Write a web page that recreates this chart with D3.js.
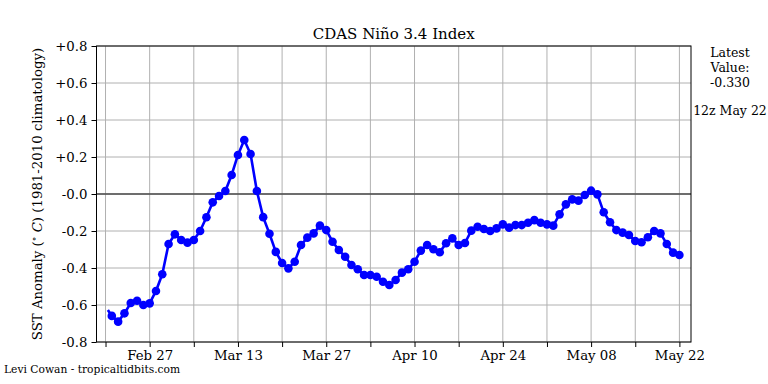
<!DOCTYPE html>
<html><head><meta charset="utf-8">
<script src="https://cdn.jsdelivr.net/npm/d3@7"></script>
<style>body{margin:0;background:#fff}svg{display:block}text{font-family:"DejaVu Serif",serif}</style>
</head><body><svg id="c" width="768" height="384"></svg>
<script>
const dates = ["2023-02-20T09:00","2023-02-21","2023-02-22","2023-02-23","2023-02-24","2023-02-25","2023-02-26","2023-02-27","2023-02-28",
"2023-03-01","2023-03-02","2023-03-03","2023-03-04","2023-03-05","2023-03-06","2023-03-07","2023-03-08","2023-03-09","2023-03-10",
"2023-03-11","2023-03-12","2023-03-13","2023-03-14","2023-03-15","2023-03-16","2023-03-17","2023-03-18","2023-03-19","2023-03-20",
"2023-03-21","2023-03-22","2023-03-23","2023-03-24","2023-03-25","2023-03-26","2023-03-27","2023-03-28","2023-03-29","2023-03-30",
"2023-03-31","2023-04-01","2023-04-02","2023-04-03","2023-04-04","2023-04-05","2023-04-06","2023-04-07","2023-04-08","2023-04-09",
"2023-04-10","2023-04-11","2023-04-12","2023-04-13","2023-04-14","2023-04-15","2023-04-16","2023-04-17","2023-04-18","2023-04-19",
"2023-04-20","2023-04-21","2023-04-22","2023-04-23","2023-04-24","2023-04-25","2023-04-26","2023-04-27","2023-04-28","2023-04-29",
"2023-04-30","2023-05-01","2023-05-02","2023-05-03","2023-05-04","2023-05-05","2023-05-06","2023-05-07","2023-05-08","2023-05-09",
"2023-05-10","2023-05-11","2023-05-12","2023-05-13","2023-05-14","2023-05-15","2023-05-16","2023-05-17","2023-05-18","2023-05-19",
"2023-05-20","2023-05-21","2023-05-22"];
const values = [-0.627,-0.659,-0.690,-0.645,-0.589,-0.577,-0.600,-0.591,-0.524,
-0.434,-0.270,-0.218,-0.249,-0.263,-0.249,-0.200,-0.126,-0.045,-0.011,
0.016,0.103,0.211,0.292,0.216,0.016,-0.125,-0.215,-0.313,-0.373,
-0.402,-0.366,-0.276,-0.236,-0.213,-0.171,-0.195,-0.258,-0.303,-0.339,
-0.384,-0.407,-0.438,-0.438,-0.447,-0.474,-0.492,-0.465,-0.425,-0.407,
-0.366,-0.306,-0.276,-0.299,-0.315,-0.266,-0.240,-0.276,-0.265,-0.198,
-0.177,-0.189,-0.200,-0.186,-0.164,-0.182,-0.168,-0.168,-0.155,-0.141,
-0.155,-0.164,-0.171,-0.110,-0.056,-0.029,-0.036,-0.005,0.018,-0.002,
-0.099,-0.153,-0.195,-0.209,-0.222,-0.254,-0.261,-0.234,-0.200,-0.213,
-0.270,-0.317,-0.330];
const xLimits = ["2023-02-18T13:40","2023-05-23T20:10"];
const majorTicks = ["2023-02-27","2023-03-13","2023-03-27","2023-04-10","2023-04-24","2023-05-08","2023-05-22"];
const minorTicks = ["2023-02-20","2023-03-06","2023-03-20","2023-04-03","2023-04-17","2023-05-01","2023-05-15"];
const yTicks = [0.8,0.6,0.4,0.2,0.0,-0.2,-0.4,-0.6,-0.8];
const yTickLabels = ["+0.8","+0.6","+0.4","+0.2","-0.0","-0.2","-0.4","-0.6","-0.8"];
const latestLines = ["Latest","Value:","-0.330"];
const latestTime = "12z May 22";

const parse = s => new Date(s.length > 10 ? s : s + "T00:00");
const L = 96.5, R = 691, T = 46, B = 342;
const svg = d3.select("#c");
const x = d3.scaleTime().domain(xLimits.map(parse)).range([L, R]);
const y = d3.scaleLinear().domain([-0.8, 0.8]).range([B, T]);
const allTicks = majorTicks.concat(minorTicks).map(parse);

// grid
const g = svg.append("g");
g.selectAll(".vg").data(allTicks).join("line")
  .attr("x1", d => x(d)).attr("x2", d => x(d)).attr("y1", T).attr("y2", B)
  .attr("stroke", "#b0b0b0").attr("stroke-width", 1);
g.selectAll(".hg").data(yTicks).join("line")
  .attr("x1", L).attr("x2", R).attr("y1", d => y(d)).attr("y2", d => y(d))
  .attr("stroke", "#b0b0b0").attr("stroke-width", 1);
// zero line
svg.append("line").attr("x1", L).attr("x2", R).attr("y1", y(0)).attr("y2", y(0))
  .attr("stroke", "#4a4a4a").attr("stroke-width", 1.5);

// axes
const xAxisMajor = d3.axisBottom(x).tickValues(majorTicks.map(parse)).tickFormat(d3.timeFormat("%b %d")).tickSize(5).tickPadding(4);
const xAxisMinor = d3.axisBottom(x).tickValues(minorTicks.map(parse)).tickFormat("").tickSize(5);
const yAxis = d3.axisLeft(y).tickValues(yTicks).tickFormat((d, i) => yTickLabels[i]).tickSize(5).tickPadding(4);
function style(sel) {
  sel.select(".domain").remove();
  sel.selectAll("line").attr("stroke", "#000").attr("stroke-width", 1);
  sel.selectAll("text").attr("fill", "#000").style("font-size", "13.3px").style("font-family", "DejaVu Serif");
}
svg.append("g").attr("transform", `translate(0,${B})`).call(xAxisMajor).call(style);
svg.append("g").attr("transform", `translate(0,${B})`).call(xAxisMinor).call(style);
svg.append("g").attr("transform", `translate(${L},0)`).call(yAxis).call(style);

// line
const line = d3.line().x((d, i) => x(parse(dates[i]))).y(d => y(d));
svg.append("path").datum(values).attr("d", line).attr("fill", "none")
  .attr("stroke", "#0000ff").attr("stroke-width", 2.6).attr("stroke-linejoin", "round");
svg.selectAll(".pt").data(values.slice(1)).join("circle")
  .attr("cx", (d, i) => x(parse(dates[i + 1]))).attr("cy", d => y(d)).attr("r", 4.3).attr("fill", "#0000ff");

// frame
svg.append("rect").attr("x", L).attr("y", T).attr("width", R - L).attr("height", B - T)
  .attr("fill", "none").attr("stroke", "#000").attr("stroke-width", 1);

// title
svg.append("text").attr("x", (L + R) / 2).attr("y", 39).attr("text-anchor", "middle")
  .style("font-size", "15px").text("CDAS Niño 3.4 Index");

// y label
const yl = svg.append("text").attr("transform", `translate(42,${(T + B) / 2}) rotate(-90)`)
  .attr("text-anchor", "middle").style("font-size", "13.3px");
yl.append("tspan").text("SST Anomaly (");
yl.append("tspan").attr("dy", -5).style("font-size", "9.5px").text("∘");
yl.append("tspan").attr("dy", 5).text(" ");
yl.append("tspan").style("font-style", "italic").text("C");
yl.append("tspan").text(") (1981-2010 climatology)");

// right text
svg.selectAll(".lt").data(latestLines).join("text")
  .attr("x", 730).attr("y", (d, i) => 57 + i * 15).attr("text-anchor", "middle")
  .style("font-size", "12.5px").text(d => d);
svg.append("text").attr("x", 730).attr("y", 115).attr("text-anchor", "middle")
  .style("font-size", "12.5px").text(latestTime);

// footer
svg.append("text").attr("x", 4).attr("y", 373).style("font-size", "10.7px").text("Levi Cowan - tropicaltidbits.com");
</script></body></html>
